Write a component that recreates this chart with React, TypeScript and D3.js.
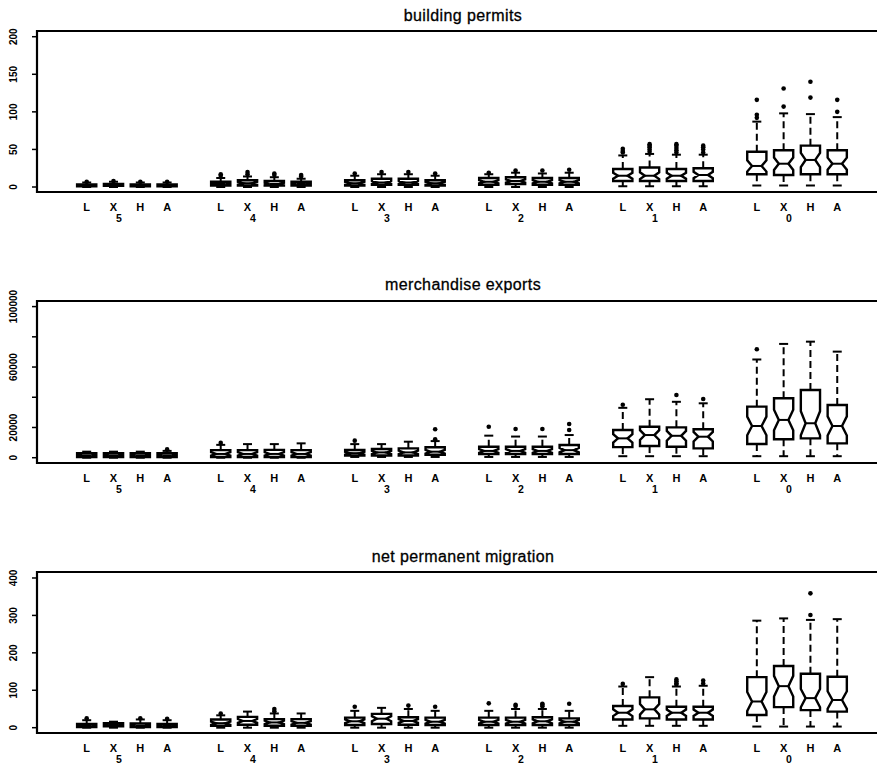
import React from "react";
import * as d3 from "d3";

// lead groups (left to right) and the four methods inside each group
const groups = ["5", "4", "3", "2", "1", "0"];
const methods = ["L", "X", "H", "A"];

// [lower whisker, Q1, median, Q3, upper whisker], 6 groups x 4 methods
const permitsStats = [
  [0, 1, 2, 3.5, 6], [0, 1.5, 2.5, 4, 7], [0, 1, 2, 3.5, 6], [0, 1, 2, 3.5, 6],
  [0, 2, 4, 7, 12], [0, 2, 5, 9, 14], [0, 2, 4, 8, 13], [0, 2, 4, 7, 11],
  [0, 2, 5, 9, 15], [0, 3, 6, 11, 17], [0, 3, 6, 11, 17], [0, 2, 5, 9, 15],
  [0, 3, 7, 12, 17], [0, 4, 8, 13, 19], [0, 3, 7, 12, 18], [0, 3, 7, 12, 19],
  [1, 8, 15, 24, 42], [1, 8, 15, 26, 44], [1, 8, 15, 24, 43], [1, 8, 16, 25, 43],
  [2, 17, 28, 47, 87], [2, 16, 31, 49, 98], [2, 17, 36, 55, 97], [2, 17, 31, 49, 93],
];
const permitsOutliers = [
  [7], [8], [7], [7],
  [15, 17], [17, 20], [16, 18], [14, 16],
  [18], [20], [20], [18],
  [19], [22], [22], [23],
  [46, 48, 51], [47, 50, 53, 55, 57], [46, 49, 52, 55, 57], [46, 50, 53, 55],
  [92, 96, 116], [107, 131], [119, 140], [100, 116],
];

const exportsStats = [
  [0, 500, 1500, 3000, 4000], [0, 500, 1500, 3000, 4000], [0, 500, 1500, 3000, 4000], [0, 500, 1500, 3000, 4500],
  [0, 500, 2500, 5000, 8500], [0, 500, 2500, 5000, 9000], [0, 500, 2500, 5200, 9000], [0, 500, 2500, 5000, 9500],
  [500, 1500, 3000, 5100, 9000], [500, 1500, 3500, 5800, 9000], [500, 1500, 3500, 6200, 10600], [500, 2000, 4000, 6900, 11000],
  [500, 2500, 4500, 7300, 14600], [500, 2500, 4500, 7300, 14000], [500, 2500, 4500, 7300, 14000], [500, 2500, 5000, 8400, 15000],
  [1000, 7000, 12800, 18300, 33000], [1000, 7700, 15000, 20500, 38700], [1000, 7300, 14500, 20100, 37000], [1000, 6200, 13900, 18800, 36000],
  [1000, 9100, 21000, 33800, 65000], [1000, 12200, 25000, 39300, 75300], [1000, 12800, 22800, 44800, 76800], [1000, 9500, 21000, 34900, 70200],
];
const exportsOutliers = [
  [], [], [], [5500],
  [9800], [], [], [],
  [11300], [], [], [12200, 18800],
  [20500], [19000], [19000], [18300, 22300],
  [35000], [], [41500], [38900],
  [71800], [], [], [],
];

const migrationStats = [
  [0, 2, 5, 10, 20], [0, 4, 8, 12, 16], [0, 2, 5, 11, 22], [0, 2, 5, 10, 20],
  [0, 5, 12, 22, 33], [0, 8, 18, 29, 43], [0, 5, 14, 23, 38], [0, 5, 13, 23, 38],
  [0, 7, 17, 27, 45], [0, 10, 24, 37, 53], [0, 8, 18, 28, 50], [0, 7, 16, 27, 45],
  [0, 7, 16, 27, 45], [0, 7, 16, 27, 50], [0, 7, 17, 28, 50], [0, 7, 16, 25, 45],
  [5, 22, 40, 58, 110], [5, 25, 49, 81, 135], [5, 22, 40, 56, 110], [5, 22, 40, 56, 112],
  [3, 34, 70, 135, 286], [3, 55, 111, 165, 292], [3, 47, 79, 144, 288], [3, 43, 74, 136, 290],
];
const migrationOutliers = [
  [25], [], [25], [24],
  [38], [], [44, 50], [],
  [56], [], [59], [56],
  [65], [58, 61], [57, 61, 64], [64],
  [117], [], [115, 119, 124, 129], [118, 126],
  [], [], [301, 359], [],
];

const permitsTicks = [0, 50, 100, 150, 200];
const permitsTickLabels = ["0", "50", "100", "150", "200"];
const exportsTicks = [0, 20000, 40000, 60000, 80000, 100000];
const exportsTickLabels = ["0", "20000", "", "60000", "", "100000"];
const migrationTicks = [0, 100, 200, 300, 400];
const migrationTickLabels = ["0", "100", "200", "300", "400"];

const sampleSize = 40; // used for notch width

const panels = [
  { title: "building permits", stats: permitsStats, outliers: permitsOutliers, ticks: permitsTicks, tickLabels: permitsTickLabels,
    domain: [-6.65, 207.6], top: 31, bottom: 192, titleY: 20.5 },
  { title: "merchandise exports", stats: exportsStats, outliers: exportsOutliers, ticks: exportsTicks, tickLabels: exportsTickLabels,
    domain: [-3500, 103700], top: 301, bottom: 463, titleY: 289.5 },
  { title: "net permanent migration", stats: migrationStats, outliers: migrationOutliers, ticks: migrationTicks, tickLabels: migrationTickLabels,
    domain: [-14.2, 416], top: 572, bottom: 733, titleY: 562 },
];

const FONT = "'Liberation Sans', Arial, Helvetica, sans-serif";

const x = d3.scaleLinear().domain([-0.854, 30.67]).range([37, 882]);
const position = (i: number) => 1 + Math.floor(i / 4) * 5 + (i % 4);
const halfW = 9.6;
const notchFrac = 0.5;
const stapleW = 4.5;

const Panel = ({ p }: { p: any }) => {
  const y = d3.scaleLinear().domain(p.domain).range([p.bottom, p.top]);
  return (
    <g>
      <text x={463} y={p.titleY} textAnchor="middle" fontSize={16} letterSpacing={0.4} fontFamily={FONT}
        stroke="#000" strokeWidth={0.3}>{p.title}</text>
      <path d={`M882,${p.top}H37V${p.bottom}H882`} fill="none" stroke="#000" strokeWidth={2.2} />
      {p.ticks.map((t: number, i: number) => (
        <g key={i}>
          <line x1={32} x2={37} y1={y(t)} y2={y(t)} stroke="#000" strokeWidth={1.5} />
          {p.tickLabels[i] && (
            <text transform={`translate(17,${y(t)}) rotate(-90)`} textAnchor="middle" fontSize={10} fontWeight="bold" fontFamily={FONT}>
              {p.tickLabels[i]}
            </text>
          )}
        </g>
      ))}
      {p.stats.map((s: number[], i: number) => {
        const cx = x(position(i));
        const [lo, q1, med, q3, hi] = s;
        const nh = (1.58 * (q3 - q1)) / Math.sqrt(sampleSize);
        const nLo = med - nh;
        const nHi = med + nh;
        const pts: [number, number][] = [
          [cx - halfW, y(q1)], [cx + halfW, y(q1)], [cx + halfW, y(nLo)], [cx + halfW * notchFrac, y(med)],
          [cx + halfW, y(nHi)], [cx + halfW, y(q3)], [cx - halfW, y(q3)], [cx - halfW, y(nHi)],
          [cx - halfW * notchFrac, y(med)], [cx - halfW, y(nLo)],
        ];
        return (
          <g key={i}>
            <line x1={cx} x2={cx} y1={y(q3)} y2={y(hi)} stroke="#000" strokeWidth={2} strokeDasharray="7,4" />
            <line x1={cx} x2={cx} y1={y(q1)} y2={y(lo)} stroke="#000" strokeWidth={2} strokeDasharray="7,4" />
            <line x1={cx - stapleW} x2={cx + stapleW} y1={y(hi)} y2={y(hi)} stroke="#000" strokeWidth={2} />
            <line x1={cx - stapleW} x2={cx + stapleW} y1={y(lo)} y2={y(lo)} stroke="#000" strokeWidth={2} />
            <polygon points={pts.map((d) => d.join(",")).join(" ")} fill="#fff" stroke="#000" strokeWidth={2.4} strokeLinejoin="miter" />
            <line x1={cx - halfW * notchFrac} x2={cx + halfW * notchFrac} y1={y(med)} y2={y(med)} stroke="#000" strokeWidth={2} />
            {p.outliers[i].map((o: number, j: number) => (
              <circle key={j} cx={cx} cy={y(o)} r={2.3} fill="#000" />
            ))}
          </g>
        );
      })}
      {groups.map((g, gi) =>
        methods.map((m, mi) => (
          <text key={g + m} x={x(1 + gi * 5 + mi)} y={p.bottom + 19} textAnchor="middle" fontSize={11} fontWeight="bold" fontFamily={FONT}>
            {m}
          </text>
        ))
      )}
      {groups.map((g, gi) => (
        <text key={g} x={x(2.2 + gi * 5)} y={p.bottom + 30} textAnchor="middle" fontSize={10.5} fontWeight="bold" fontFamily={FONT}>
          {g}
        </text>
      ))}
    </g>
  );
};

export default function App() {
  return (
    <svg width={877} height={768} style={{ position: "absolute", left: 0, top: 0, background: "#fff" }}>
      <rect width={877} height={768} fill="#fff" />
      {panels.map((p) => (
        <Panel key={p.title} p={p} />
      ))}
    </svg>
  );
}
